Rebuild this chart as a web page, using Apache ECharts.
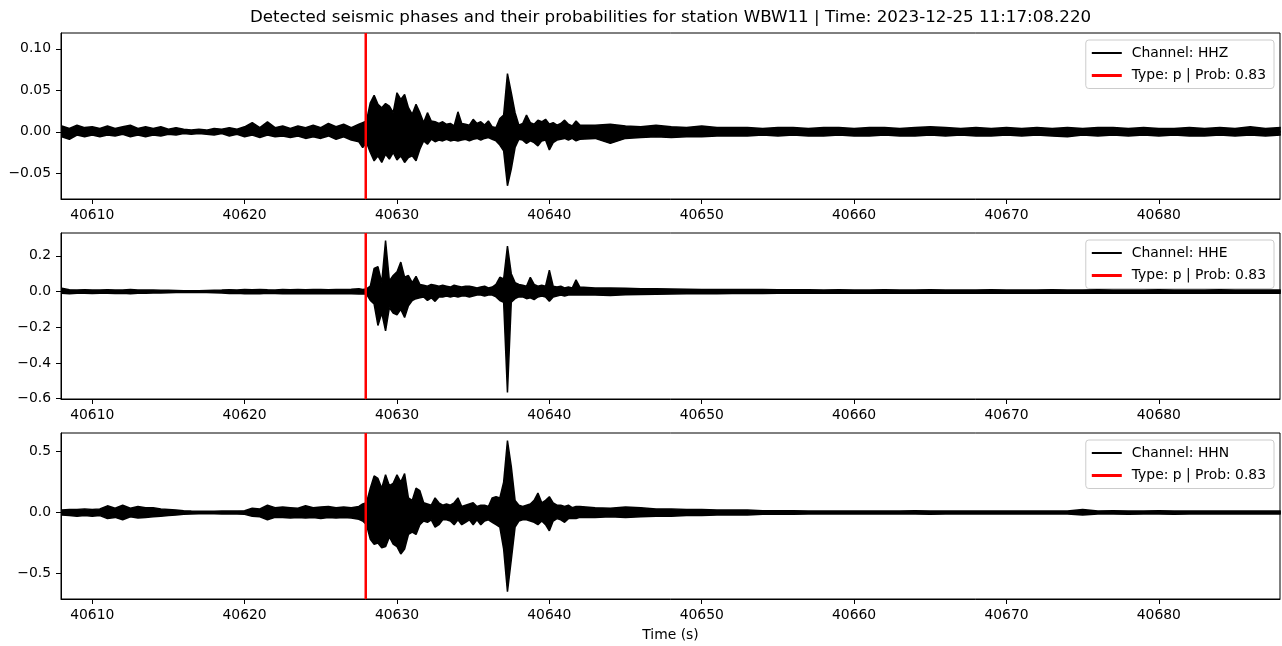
<!DOCTYPE html>
<html>
<head>
<meta charset="utf-8">
<script src="https://cdn.jsdelivr.net/npm/echarts@6/dist/echarts.min.js"></script>
<style>
html,body{margin:0;padding:0;background:#fff;}
#main{width:1282px;height:646px;}
</style>
</head>
<body>
<div id="main"></div>
<script>
// sample times (s) - coarse before/after the event, finer around it
const time = [
  40608, 40608.5, 40609, 40609.5, 40610, 40610.5, 40611, 40611.5, 40612, 40612.5,
  40613, 40613.5, 40614, 40614.5, 40615, 40615.5, 40616, 40616.5, 40617, 40617.5,
  40618, 40618.5, 40619, 40619.5, 40620, 40620.5, 40621, 40621.5, 40622, 40622.5,
  40623, 40623.5, 40624, 40624.5, 40625, 40625.5, 40626, 40626.5, 40627, 40627.5,
  40627.75, 40628, 40628.25, 40628.5, 40628.75, 40629, 40629.25, 40629.5, 40629.75, 40630,
  40630.25, 40630.5, 40630.75, 40631, 40631.25, 40631.5, 40631.75, 40632, 40632.25, 40632.5,
  40632.75, 40633, 40633.25, 40633.5, 40633.75, 40634, 40634.25, 40634.5, 40634.75, 40635,
  40635.25, 40635.5, 40635.75, 40636, 40636.25, 40636.5, 40636.75, 40637, 40637.25, 40637.5,
  40637.75, 40638, 40638.25, 40638.5, 40638.75, 40639, 40639.25, 40639.5, 40639.75, 40640,
  40640.25, 40640.5, 40640.75, 40641, 40641.25, 40641.5, 40641.75, 40642,
  40643, 40644, 40645, 40646, 40647, 40648, 40649, 40650, 40651, 40652,
  40653, 40654, 40655, 40656, 40657, 40658, 40659, 40660, 40661, 40662,
  40663, 40664, 40665, 40666, 40667, 40668, 40669, 40670, 40671, 40672,
  40673, 40674, 40675, 40676, 40677, 40678, 40679, 40680, 40681, 40682,
  40683, 40684, 40685, 40686, 40687, 40688
];

// upper / lower envelope of each trace
const hhzHi = [
  .007, .004, .008, .005, .006, .004, .007, .004, .006, .008,
  .004, .006, .004, .006, .003, .005, .003, .002, .003, .002,
  .004, .003, .005, .003, .006, .011, .005, .012, .005, .007,
  .004, .007, .005, .008, .005, .010, .006, .009, .005, .009,
  .011, .013, .035, .044, .033, .029, .034, .031, .023, .047,
  .039, .045, .029, .021, .033, .023, .011, .023, .013, .012,
  .010, .012, .009, .010, .007, .024, .010, .009, .008, .015,
  .010, .012, .008, .013, .006, .005, .016, .020, .070, .047,
  .023, .008, .010, .020, .011, .009, .014, .012, .015, .009,
  .011, .008, .010, .014, .009, .007, .013, .008,
  .008, .009, .007, .006, .008, .006, .005, .007, .005, .005,
  .005, .004, .005, .005, .004, .005, .005, .004, .005, .005,
  .004, .005, .006, .005, .004, .005, .004, .005, .004, .005,
  .004, .005, .004, .005, .005, .004, .005, .004, .004, .005,
  .004, .005, .004, .006, .004, .005
];
const hhzLo = [
  -.006, -.009, -.004, -.006, -.004, -.006, -.004, -.005, -.003, -.006,
  -.004, -.006, -.004, -.005, -.003, -.004, -.002, -.003, -.002, -.003,
  -.004, -.002, -.005, -.003, -.006, -.004, -.007, -.004, -.006, -.005,
  -.007, -.005, -.008, -.006, -.008, -.005, -.009, -.006, -.010, -.012,
  -.019, -.013, -.025, -.035, -.029, -.037, -.027, -.033, -.025, -.034,
  -.029, -.037, -.031, -.029, -.035, -.021, -.011, -.015, -.009, -.012,
  -.010, -.011, -.009, -.011, -.010, -.011, -.010, -.009, -.011, -.009,
  -.008, -.010, -.008, -.007, -.009, -.011, -.016, -.023, -.065, -.045,
  -.019, -.009, -.010, -.014, -.011, -.013, -.017, -.011, -.010, -.022,
  -.013, -.010, -.009, -.008, -.010, -.008, -.011, -.009,
  -.008, -.014, -.008, -.007, -.006, -.007, -.006, -.006, -.005, -.005,
  -.005, -.004, -.005, -.004, -.005, -.005, -.004, -.005, -.005, -.004,
  -.005, -.005, -.004, -.005, -.004, -.005, -.005, -.004, -.005, -.004,
  -.005, -.006, -.004, -.005, -.004, -.005, -.004, -.005, -.004, -.005,
  -.005, -.004, -.005, -.004, -.005, -.004
];
const hheHi = [
  .018, .010, .009, .010, .008, .009, .010, .008, .009, .011,
  .009, .008, .008, .007, .007, .006, .005, .005, .005, .006,
  .007, .008, .010, .009, .011, .010, .012, .010, .009, .011,
  .010, .012, .010, .011, .012, .010, .012, .011, .013, .016,
  .012, .015, .030, .130, .140, .050, .285, .060, .090, .110,
  .165, .080, .090, .050, .085, .040, .035, .030, .040, .035,
  .030, .035, .030, .025, .035, .030, .025, .030, .030, .025,
  .020, .025, .030, .020, .025, .040, .080, .070, .255, .100,
  .050, .040, .035, .030, .080, .040, .030, .035, .030, .120,
  .030, .025, .030, .020, .025, .020, .065, .025,
  .020, .020, .018, .016, .015, .014, .013, .012, .012, .011,
  .011, .011, .010, .010, .010, .009, .010, .009, .009, .010,
  .009, .009, .010, .009, .009, .009, .010, .009, .009, .009,
  .010, .009, .009, .010, .009, .009, .009, .010, .009, .009,
  .009, .010, .009, .009, .009, .009
];
const hheLo = [
  -.010, -.012, -.009, -.010, -.011, -.009, -.010, -.011, -.009, -.012,
  -.010, -.009, -.008, -.008, -.007, -.006, -.005, -.005, -.006, -.006,
  -.007, -.008, -.011, -.010, -.012, -.011, -.013, -.010, -.011, -.012,
  -.011, -.012, -.013, -.011, -.012, -.012, -.013, -.012, -.012, -.014,
  -.012, -.015, -.050, -.070, -.190, -.120, -.220, -.090, -.120, -.130,
  -.100, -.145, -.080, -.050, -.040, -.035, -.030, -.050, -.035, -.055,
  -.030, -.030, -.025, -.030, -.025, -.030, -.025, -.025, -.030, -.025,
  -.020, -.020, -.025, -.020, -.020, -.030, -.050, -.060, -.565, -.060,
  -.040, -.030, -.030, -.040, -.035, -.045, -.030, -.025, -.030, -.055,
  -.030, -.025, -.020, -.025, -.020, -.020, -.020, -.020,
  -.020, -.022, -.018, -.016, -.015, -.014, -.013, -.012, -.012, -.011,
  -.011, -.011, -.010, -.010, -.010, -.010, -.009, -.010, -.009, -.009,
  -.010, -.009, -.009, -.009, -.010, -.009, -.009, -.009, -.010, -.009,
  -.009, -.009, -.010, -.009, -.009, -.009, -.009, -.009, -.010, -.009,
  -.009, -.009, -.009, -.010, -.009, -.009
];
const hhnHi = [
  .020, .025, .025, .030, .025, .030, .055, .035, .060, .035,
  .050, .040, .040, .030, .025, .020, .015, .012, .010, .010,
  .010, .012, .012, .012, .015, .035, .030, .060, .040, .045,
  .040, .035, .055, .040, .045, .050, .040, .045, .040, .050,
  .070, .080, .200, .300, .280, .200, .310, .220, .240, .310,
  .250, .320, .120, .100, .200, .180, .080, .070, .060, .120,
  .080, .060, .070, .060, .080, .120, .050, .060, .070, .080,
  .050, .060, .060, .050, .120, .130, .120, .250, .590, .380,
  .100, .060, .050, .060, .070, .100, .160, .080, .100, .130,
  .080, .060, .060, .050, .060, .040, .050, .050,
  .040, .035, .045, .040, .030, .030, .025, .025, .020, .020,
  .020, .015, .015, .015, .012, .012, .012, .012, .012, .012,
  .012, .015, .012, .012, .012, .012, .012, .012, .012, .012,
  .012, .012, .025, .012, .015, .012, .012, .015, .012, .012,
  .012, .012, .012, .012, .012, .012
];
const hhnLo = [
  -.020, -.025, -.030, -.025, -.030, -.025, -.050, -.040, -.060, -.035,
  -.045, -.040, -.035, -.030, -.025, -.020, -.015, -.012, -.010, -.010,
  -.010, -.012, -.012, -.012, -.015, -.030, -.035, -.060, -.040, -.040,
  -.045, -.040, -.045, -.040, -.050, -.040, -.045, -.040, -.045, -.055,
  -.070, -.100, -.220, -.260, -.250, -.290, -.280, -.200, -.260, -.280,
  -.340, -.300, -.180, -.160, -.180, -.100, -.070, -.080, -.060, -.120,
  -.100, -.060, -.060, -.070, -.100, -.060, -.100, -.080, -.060, -.100,
  -.060, -.100, -.070, -.060, -.080, -.100, -.120, -.300, -.650, -.390,
  -.120, -.070, -.060, -.060, -.070, -.080, -.100, -.070, -.100, -.150,
  -.070, -.050, -.060, -.080, -.050, -.050, -.050, -.040,
  -.040, -.035, -.040, -.035, -.030, -.030, -.025, -.025, -.020, -.020,
  -.020, -.015, -.015, -.015, -.012, -.012, -.012, -.012, -.012, -.012,
  -.012, -.012, -.015, -.012, -.012, -.012, -.012, -.012, -.012, -.012,
  -.012, -.012, -.020, -.012, -.012, -.015, -.012, -.012, -.015, -.012,
  -.012, -.012, -.012, -.012, -.012, -.012
];

const channels = ['HHZ', 'HHE', 'HHN'];
const pickTime = 40627.95;
const pickLabel = 'Type: p | Prob: 0.83';
const xRange = [40607.95, 40687.95];
const xTicks = [40610, 40620, 40630, 40640, 40650, 40660, 40670, 40680];
const yRanges = [[-0.081, 0.119], [-0.602, 0.328], [-0.71, 0.653]];
const yTicks = [[-0.05, 0, 0.05, 0.1], [-0.6, -0.4, -0.2, 0, 0.2], [-0.5, 0, 0.5]];
const yDigits = [2, 1, 1];

const envelopes = [[hhzHi, hhzLo], [hheHi, hheLo], [hhnHi, hhnLo]];
const gridTops = [33, 233, 433];
const FONT = 'DejaVu Sans';

let myChart = echarts.init(document.getElementById('main'));

let grids = [], xAxes = [], yAxes = [], series = [], legends = [];
for (let i = 0; i < 3; i++) {
    let name = 'Channel: ' + channels[i];
    // fills meet slightly past zero so no seam shows inside the band
    let overlap = (yRanges[i][1] - yRanges[i][0]) * 0.004;
    grids.push({
        left: 61, right: 2, top: gridTops[i], height: 166,
        show: true, borderColor: '#000', borderWidth: 1
    });
    xAxes.push({
        type: 'value', gridIndex: i,
        min: xRange[0], max: xRange[1],
        axisLine: {show: true, onZero: false, lineStyle: {color: '#000', width: 1}},
        axisTick: {show: true, length: 5, customValues: xTicks, lineStyle: {color: '#000'}},
        axisLabel: {
            customValues: xTicks, margin: 9, fontSize: 13.9, color: '#000', fontFamily: FONT,
            formatter: function (v) { return String(v); }
        },
        splitLine: {show: false},
        name: i === 2 ? 'Time (s)' : '',
        nameLocation: 'middle', nameGap: 29,
        nameTextStyle: {fontSize: 13.9, color: '#000', fontFamily: FONT}
    });
    let d = yDigits[i];
    yAxes.push({
        type: 'value', gridIndex: i,
        min: yRanges[i][0], max: yRanges[i][1],
        axisLine: {show: true, lineStyle: {color: '#000', width: 1}},
        axisTick: {show: true, length: 5, customValues: yTicks[i], lineStyle: {color: '#000'}},
        axisLabel: {
            customValues: yTicks[i], margin: 10, fontSize: 13.9, color: '#000', fontFamily: FONT,
            formatter: function (v) { return (v < -1e-9 ? '\u2212' : '') + Math.abs(v).toFixed(d); }
        },
        splitLine: {show: false}
    });
    // trace: upper and lower envelope, each filled towards zero
    envelopes[i].forEach(function (env, j) {
        series.push({
            name: name, type: 'line', xAxisIndex: i, yAxisIndex: i,
            data: time.map(function (t, k) { return [t, env[k]]; }),
            showSymbol: false, symbol: 'none', silent: true, animation: false,
            lineStyle: {color: '#000', width: 1.5},
            itemStyle: {color: '#000'},
            areaStyle: {color: '#000', opacity: 1, origin: j === 0 ? -overlap : overlap},
            z: 2
        });
    });
    // pick line
    series.push({
        name: pickLabel, type: 'line', xAxisIndex: i, yAxisIndex: i,
        data: [[pickTime, yRanges[i][0]], [pickTime, yRanges[i][1]]],
        showSymbol: false, symbol: 'none', silent: true, animation: false,
        lineStyle: {color: '#ff0000', width: 2.5},
        itemStyle: {color: '#ff0000'},
        z: 3
    });
    legends.push({
        data: [
            {name: name, icon: 'path://M0,0h30v2h-30z'},
            {name: pickLabel, icon: 'path://M0,0h30v3h-30z'}
        ],
        orient: 'vertical', right: 8, top: gridTops[i] + 7,
        itemWidth: 30, itemHeight: 14, itemGap: 8.5,
        padding: [6, 8, 6, 6],
        backgroundColor: 'rgba(255,255,255,0.8)',
        borderColor: '#cccccc', borderWidth: 1, borderRadius: 3,
        selectedMode: false,
        textStyle: {fontSize: 13.9, color: '#000', fontFamily: FONT, padding: [0, 0, 0, 5]}
    });
}

myChart.setOption({
    animation: false,
    backgroundColor: '#fff',
    graphic: [{
        type: 'text', x: 670.5, y: 18,
        style: {
            text: 'Detected seismic phases and their probabilities for station WBW11 | Time: 2023-12-25 11:17:08.220',
            textAlign: 'center', textVerticalAlign: 'middle',
            fontSize: 16.7, fontFamily: FONT, fill: '#000'
        }
    }],
    legend: legends,
    grid: grids,
    xAxis: xAxes,
    yAxis: yAxes,
    series: series
});
</script>
</body>
</html>
